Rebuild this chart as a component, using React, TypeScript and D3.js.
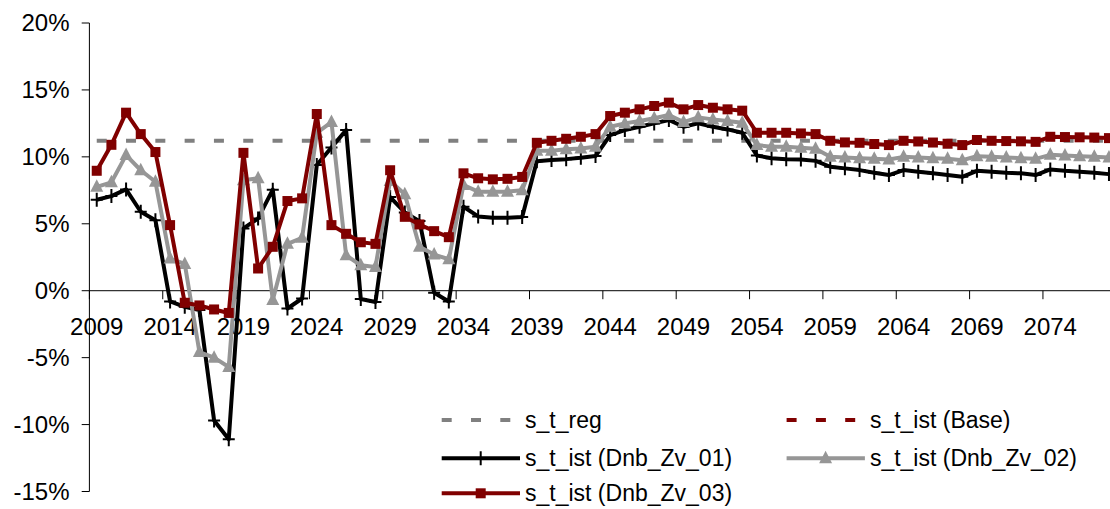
import React from "react";
import * as d3 from "d3";

const years: number[] = d3.range(2009, 2079);

const regValue = 11.2;

const zv01: number[] = [
  6.8, 7.07, 7.57, 5.9, 5.27, -0.8, -1.2, -1.45, -9.7, -11.1,
  4.65, 5.4, 7.55, -1.33, -0.58, 9.39, 10.7, 12.0, -0.62, -0.84,
  7.0, 5.85, 5.2, -0.15, -0.8, 6.27, 5.55, 5.45, 5.45, 5.5,
  9.67, 9.76, 9.83, 9.93, 10.06, 11.63, 12.0, 12.25, 12.5, 12.75,
  12.25, 12.5, 12.25, 12.05, 11.8, 10.1, 9.9, 9.83, 9.8, 9.7,
  9.26, 9.14, 9.01, 8.81, 8.64, 9.01, 8.89, 8.77, 8.64, 8.51,
  8.96, 8.89, 8.81, 8.77, 8.64, 9.06, 8.96, 8.89, 8.81, 8.71,
];

const zv02: number[] = [
  7.76, 8.1, 10.13, 9.0, 8.14, 2.4, 2.0, -4.58, -5.0, -5.7,
  8.26, 8.4, -0.7, 3.5, 3.95, 11.8, 12.6, 2.65, 1.9, 1.78,
  8.2, 7.2, 3.28, 2.7, 2.35, 7.9, 7.4, 7.4, 7.4, 7.5,
  10.45, 10.46, 10.56, 10.63, 10.76, 12.25, 12.5, 12.68, 12.88, 13.13,
  12.6, 12.95, 12.8, 12.68, 12.55, 10.88, 10.76, 10.76, 10.68, 10.6,
  10.0, 9.95, 9.9, 9.85, 9.8, 10.0, 9.95, 9.9, 9.85, 9.75,
  10.05, 10.0, 9.95, 9.9, 9.85, 10.15, 10.1, 10.05, 10.0, 9.95,
];

const zv03: number[] = [
  8.96, 10.9, 13.3, 11.7, 10.36, 4.9, -0.9, -1.1, -1.4, -1.66,
  10.3, 1.66, 3.28, 6.7, 6.9, 13.2, 4.9, 4.25, 3.62, 3.5,
  9.0, 5.52, 4.95, 4.45, 4.0, 8.77, 8.4, 8.32, 8.36, 8.5,
  11.05, 11.2, 11.35, 11.5, 11.7, 13.05, 13.3, 13.55, 13.8, 14.05,
  13.55, 13.87, 13.67, 13.55, 13.45, 11.8, 11.8, 11.8, 11.75, 11.7,
  11.2, 11.08, 11.05, 10.96, 10.88, 11.2, 11.15, 11.07, 10.98, 10.88,
  11.26, 11.2, 11.18, 11.16, 11.12, 11.5, 11.48, 11.46, 11.44, 11.4,
];

// s_t_ist (Base) is not visible in the chart (covered); legend only
const baseValues: number[] = [];

const yTicks: number[] = [-15, -10, -5, 0, 5, 10, 15, 20];

const FONT = "'Liberation Sans', Arial, sans-serif";
const W = 1110;
const H = 509;

export default function App() {
  const x = d3
    .scaleBand<number>()
    .domain(years)
    .range([89.4, 89.4 + years.length * 14.67])
    .padding(0);
  const cx = (yr: number) => (x(yr) as number) + x.bandwidth() / 2;
  const y = d3.scaleLinear().domain([-15, 20]).range([491.5, 23]);

  const line = d3
    .line<number>()
    .x((_, i) => cx(years[i]))
    .y((v) => y(v));

  const regLine = line(years.map(() => regValue)) as string;

  const labelYears = years.filter((_, i) => i % 5 === 0);

  const plus = (px: number, py: number, k: string) => (
    <path key={k} d={`M${px - 6},${py}H${px + 6}M${px},${py - 7}V${py + 7}`} stroke="#000" strokeWidth={2} />
  );
  const tri = (px: number, py: number, k: string) => (
    <path key={k} d={`M${px},${py - 7.5}L${px + 6.5},${py + 5}L${px - 6.5},${py + 5}Z`} fill="#969696" />
  );
  const sq = (px: number, py: number, k: string) => (
    <rect key={k} x={px - 5} y={py - 5} width={10} height={10} fill="#800000" />
  );

  const legendRows = [
    { lx: 441.7, ly: 420, text: "s_t_reg", kind: "dash", color: "#808080" },
    { lx: 786.6, ly: 420, text: "s_t_ist (Base)", kind: "dash", color: "#800000" },
    { lx: 441.7, ly: 458.3, text: "s_t_ist (Dnb_Zv_01)", kind: "plus", color: "#000" },
    { lx: 786.6, ly: 458.3, text: "s_t_ist (Dnb_Zv_02)", kind: "tri", color: "#969696" },
    { lx: 441.7, ly: 493.3, text: "s_t_ist (Dnb_Zv_03)", kind: "sq", color: "#800000" },
  ];

  return (
    <svg
      width={W}
      height={H}
      style={{ position: "absolute", left: 0, top: 0, background: "#fff" }}
      fontFamily={FONT}
    >
      <rect width={W} height={H} fill="#fff" />
      {/* y axis */}
      <line x1={89.4} x2={89.4} y1={y(20)} y2={y(-15)} stroke="#000" strokeWidth={1} />
      {yTicks.map((t) => (
        <g key={t}>
          <line x1={81.7} x2={89.4} y1={y(t)} y2={y(t)} stroke="#000" strokeWidth={1} />
          <text x={69.5} y={y(t) + 8.3} textAnchor="end" fontSize={24} fill="#000">
            {`${t}%`}
          </text>
        </g>
      ))}
      {/* x axis */}
      <line x1={89.4} x2={W} y1={y(0)} y2={y(0)} stroke="#000" strokeWidth={1} />
      {labelYears.map((yr) => (
        <g key={yr}>
          <line x1={x(yr) as number} x2={x(yr) as number} y1={y(0)} y2={y(0) + 8.5} stroke="#000" strokeWidth={1} />
          <text x={cx(yr)} y={334.5} textAnchor="middle" fontSize={24} fill="#000">
            {yr}
          </text>
        </g>
      ))}
      {/* s_t_reg */}
      <path d={regLine} fill="none" stroke="#808080" strokeWidth={4} strokeDasharray="10,19.3" />
      {baseValues.length > 0 && (
        <path d={line(baseValues) as string} fill="none" stroke="#800000" strokeWidth={4} strokeDasharray="10,19.3" />
      )}
      {/* Dnb_Zv_01 */}
      <path d={line(zv01) as string} fill="none" stroke="#000" strokeWidth={4} strokeLinejoin="round" />
      {zv01.map((v, i) => plus(cx(years[i]), y(v), `a${i}`))}
      {/* Dnb_Zv_02 */}
      <path d={line(zv02) as string} fill="none" stroke="#969696" strokeWidth={4} strokeLinejoin="round" />
      {zv02.map((v, i) => tri(cx(years[i]), y(v), `b${i}`))}
      {/* Dnb_Zv_03 */}
      <path d={line(zv03) as string} fill="none" stroke="#800000" strokeWidth={4} strokeLinejoin="round" />
      {zv03.map((v, i) => sq(cx(years[i]), y(v), `c${i}`))}
      {/* legend */}
      {legendRows.map((r) => (
        <g key={r.text}>
          {r.kind === "dash" ? (
            <line x1={r.lx} x2={r.lx + 69} y1={r.ly} y2={r.ly} stroke={r.color} strokeWidth={4} strokeDasharray="10,19.3" />
          ) : (
            <line x1={r.lx} x2={r.lx + 78.3} y1={r.ly} y2={r.ly} stroke={r.color} strokeWidth={4} />
          )}
          {r.kind === "plus" && plus(r.lx + 39, r.ly, "lp")}
          {r.kind === "tri" && tri(r.lx + 39, r.ly, "lt")}
          {r.kind === "sq" && sq(r.lx + 39, r.ly, "ls")}
          <text x={r.lx + 83.3} y={r.ly + 8} fontSize={23} fill="#000">
            {r.text}
          </text>
        </g>
      ))}
    </svg>
  );
}
